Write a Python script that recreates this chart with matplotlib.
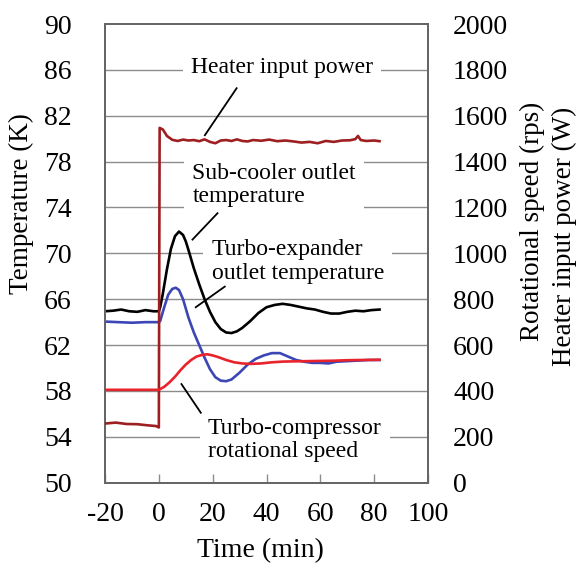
import matplotlib
matplotlib.use('Agg')
import matplotlib.pyplot as plt

plt.rcParams['font.family'] = ['Liberation Serif', 'DejaVu Serif']

# sub-cooler outlet temperature (K)
sub_t = [-20, -17, -14, -11, -8, -5, -2, 0, 0.5, 1.5, 3, 4.5, 6, 7.5, 9, 10, 11,
         13, 15, 17, 19, 21, 23, 25, 27, 29, 31, 34, 37, 40, 43, 46, 49, 52, 55,
         58, 61, 64, 67, 70, 73, 76, 79, 82]
sub_k = [64.95, 65.0, 65.1, 64.95, 64.9, 65.05, 64.95, 64.95, 65.3, 66.5, 68.6,
         70.4, 71.5, 71.9, 71.6, 71.05, 70.3, 68.7, 67.3, 66.0, 64.9, 64.0, 63.4,
         63.1, 63.05, 63.2, 63.5, 64.1, 64.8, 65.3, 65.5, 65.6, 65.5, 65.35, 65.2,
         65.1, 64.9, 64.75, 64.75, 64.9, 65.0, 64.95, 65.05, 65.1]

# turbo-expander outlet temperature (K)
exp_t = [-20, -15, -10, -5, 0, 0.5, 2, 3.5, 5, 6.3, 7.5, 9, 11, 13, 15, 17, 19,
         21, 23, 25, 27, 30, 33, 36, 39, 42, 45, 48, 51, 54, 57, 60, 63, 66, 70,
         74, 78, 82]
exp_k = [64.05, 64.0, 63.95, 64.0, 64.0, 64.1, 65.3, 66.4, 66.9, 67.0, 66.8, 66.0,
         64.4, 63.1, 62.0, 60.9, 59.9, 59.2, 58.9, 58.85, 59.0, 59.6, 60.3, 60.8,
         61.1, 61.3, 61.3, 61.0, 60.7, 60.55, 60.45, 60.45, 60.4, 60.55, 60.6,
         60.65, 60.7, 60.7]

# turbo-compressor rotational speed (rps)
comp_t = [-20, -10, 0, 2, 4, 6, 8, 10, 12, 14, 16, 18, 20, 22, 25, 28, 31, 34,
          38, 42, 46, 50, 55, 60, 65, 70, 75, 82]
comp_rps = [405, 405, 405, 418, 438, 462, 490, 515, 535, 550, 557, 560, 555, 548,
            535, 525, 520, 518, 520, 525, 528, 529, 530, 531, 532, 534, 535, 536]

# heater input power (W)
heat_t = [-20, -16, -12, -8, -4, -1, 0, 0.3, 1.5, 3, 5, 7, 9, 11, 13, 15, 17, 19,
          21, 23, 25, 27, 29, 31, 33, 35, 38, 41, 44, 47, 50, 53, 56, 59, 62, 65,
          68, 71, 73, 74, 75, 77, 80, 82]
heat_w = [258, 262, 256, 255, 250, 247, 241, 1547, 1540, 1512, 1495, 1490, 1496,
          1492, 1494, 1489, 1497, 1486, 1480, 1492, 1494, 1490, 1497, 1490, 1488,
          1494, 1491, 1496, 1489, 1492, 1488, 1483, 1486, 1480, 1490, 1486, 1492,
          1493, 1498, 1512, 1494, 1490, 1492, 1489]

temp_ticks = [50, 54, 58, 62, 66, 70, 74, 78, 82, 86, 90]
right_ticks = [0, 200, 400, 600, 800, 1000, 1200, 1400, 1600, 1800, 2000]
time_ticks = [-20, 0, 20, 40, 60, 80, 100]

# label text, last-line baseline (t, K), alignment, leader line (t0, K0, t1, K1)
labels = [
    ('Heater input power', 45.7, 85.75, 'center', (28.9, 84.4, 17.1, 80.3)),
    ('Sub-cooler outlet\ntemperature', 12.5, 74.5, 'left', (21.8, 73.5, 12.5, 71.2)),
    ('Turbo-expander\noutlet temperature', 19.6, 67.8, 'left', (24.5, 67.1, 13.7, 65.3)),
    ('Turbo-compressor\nrotational speed', 18.2, 52.2, 'left', (15.6, 56.1, 8.4, 58.6)),
]

W, H = 583, 568
fig = plt.figure(figsize=(W / 100, H / 100), dpi=100)
ax = fig.add_axes([105 / W, 1 - 482.7 / H, 323 / W, 458.7 / H])
ax2 = ax.twinx()

# temperature side
ax.set_xlim(-20, 100)
ax.set_ylim(50, 90)
for k in temp_ticks[1:-1]:
    ax.axhline(k, color='#8c8c8c', lw=1.0, zorder=1)
ax.plot(sub_t, sub_k, color='black', lw=1.9, zorder=3)
ax.plot(exp_t, exp_k, color='#3c46b4', lw=1.9, zorder=3)

for txt, tx, ty, ha, lead in labels:
    ax.text(tx, ty, txt, ha=ha, va='baseline', fontsize=17, linespacing=1.13,
            bbox=dict(facecolor='white', edgecolor='none', pad=6), zorder=2)
    ax.plot([lead[0], lead[2]], [lead[1], lead[3]], color='black', lw=1.3, zorder=4)

# rps / W side
ax2.set_ylim(0, 2000)
ax2.plot(heat_t, heat_w, color='#9e1f22', lw=1.9, zorder=3)
ax2.plot(comp_t, comp_rps, color='#e8232b', lw=1.9, zorder=3)

ax.set_xticks(time_ticks)
ax.set_xticklabels([str(t) for t in time_ticks])
ax.set_yticks(temp_ticks)
ax2.set_yticks(right_ticks)
ax.tick_params(axis='x', direction='in', length=6.5, width=1, color='#8c8c8c',
               labelsize=20, pad=14)
ax.tick_params(axis='y', length=0, labelsize=20, pad=24)
ax2.tick_params(axis='y', length=0, labelsize=20, pad=18)

for a in (ax, ax2):
    for s in a.spines.values():
        s.set_color('#666666')
        s.set_linewidth(1.4)

ax.set_xlabel('Time (min)', fontsize=20)
ax.xaxis.set_label_coords(0.48, -0.12)
ax.xaxis.label.set_va('top')

fig.text(21.5 / W, 1 - 204 / H, 'Temperature (K)', rotation=90, ha='center',
         va='center', fontsize=19.5)
fig.text(532.5 / W, 1 - 221 / H, 'Rotational speed (rps)', rotation=90,
         ha='center', va='center', fontsize=19.5)
fig.text(564 / W, 1 - 236 / H, 'Heater input power (W)', rotation=90,
         ha='center', va='center', fontsize=19.5)

fig.savefig('out.png', dpi=100)
plt.close()
